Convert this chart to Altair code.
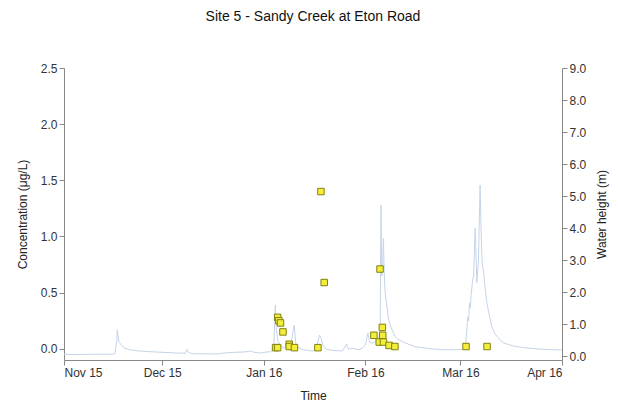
import altair as alt
import pandas as pd

# Water height (m) series
wl_time = [
    "2015-11-01T00:00", "2015-11-05T00:00", "2015-11-10T00:00", "2015-11-15T00:00",
    "2015-11-16T12:00", "2015-11-17T03:00", "2015-11-17T06:00", "2015-11-17T18:00",
    "2015-11-18T12:00", "2015-11-19T12:00", "2015-11-21T00:00", "2015-11-24T00:00",
    "2015-11-29T00:00", "2015-12-05T00:00", "2015-12-08T00:00", "2015-12-08T12:00",
    "2015-12-09T00:00", "2015-12-10T00:00", "2015-12-14T00:00", "2015-12-18T00:00",
    "2015-12-20T00:00", "2015-12-23T00:00", "2015-12-26T00:00", "2015-12-28T00:00",
    "2015-12-29T00:00", "2015-12-31T00:00",
    "2016-01-01T00:00", "2016-01-03T00:00", "2016-01-04T00:00", "2016-01-04T12:00",
    "2016-01-04T18:00", "2016-01-05T06:00", "2016-01-06T00:00", "2016-01-08T00:00",
    "2016-01-09T00:00", "2016-01-10T06:00", "2016-01-10T18:00", "2016-01-11T00:00",
    "2016-01-13T00:00", "2016-01-15T00:00", "2016-01-16T00:00", "2016-01-17T00:00",
    "2016-01-17T12:00", "2016-01-18T00:00", "2016-01-18T12:00", "2016-01-19T00:00",
    "2016-01-20T00:00", "2016-01-22T00:00", "2016-01-25T00:00", "2016-01-26T06:00",
    "2016-01-26T18:00", "2016-01-28T00:00", "2016-01-29T00:00", "2016-01-30T00:00",
    "2016-01-31T00:00", "2016-02-01T00:00", "2016-02-01T18:00", "2016-02-02T06:00",
    "2016-02-03T00:00", "2016-02-04T00:00", "2016-02-05T00:00", "2016-02-05T12:00",
    "2016-02-05T18:00", "2016-02-06T00:00", "2016-02-06T06:00", "2016-02-06T12:00",
    "2016-02-06T18:00", "2016-02-07T00:00", "2016-02-07T12:00", "2016-02-08T00:00",
    "2016-02-08T12:00", "2016-02-09T00:00", "2016-02-10T00:00", "2016-02-11T00:00",
    "2016-02-13T00:00", "2016-02-16T00:00", "2016-02-20T00:00", "2016-02-22T00:00",
    "2016-02-25T00:00", "2016-02-28T00:00", "2016-03-01T00:00", "2016-03-02T12:00",
    "2016-03-03T00:00", "2016-03-03T06:00", "2016-03-03T12:00", "2016-03-03T18:00",
    "2016-03-04T00:00", "2016-03-04T06:00", "2016-03-04T18:00", "2016-03-05T00:00",
    "2016-03-05T12:00", "2016-03-06T00:00", "2016-03-06T12:00", "2016-03-07T00:00",
    "2016-03-07T06:00", "2016-03-07T12:00", "2016-03-07T18:00", "2016-03-08T00:00",
    "2016-03-08T12:00", "2016-03-09T00:00", "2016-03-09T12:00", "2016-03-10T12:00",
    "2016-03-11T12:00", "2016-03-12T12:00", "2016-03-14T00:00", "2016-03-17T00:00",
    "2016-03-20T00:00", "2016-03-25T00:00", "2016-04-01T00:00",
]
wl_value = [
    0.06, 0.05, 0.06, 0.06,
    0.07, 0.50, 0.82, 0.45,
    0.35, 0.25, 0.20, 0.16,
    0.13, 0.10, 0.09, 0.21,
    0.12, 0.08, 0.07, 0.07,
    0.10, 0.12, 0.13, 0.16,
    0.12, 0.10,
    0.12, 0.14, 0.20, 1.60,
    0.90, 0.50, 0.32, 0.22,
    0.20, 0.97, 0.40, 0.30,
    0.20, 0.17, 0.16, 0.20,
    0.45, 0.66, 0.55, 0.35,
    0.22, 0.18, 0.16, 0.38,
    0.22, 0.25, 0.22, 0.20,
    0.25, 0.35, 0.72, 0.45,
    0.40, 0.45, 0.55, 0.80,
    4.72, 2.50, 2.80, 3.68,
    2.60, 2.00, 1.60, 1.20,
    1.00, 0.85, 0.62, 0.52,
    0.42, 0.30, 0.24, 0.22,
    0.20, 0.20, 0.21, 0.22,
    0.90, 1.23, 1.10, 1.65,
    1.50, 1.90, 2.40, 2.48,
    4.00, 2.30, 3.00, 5.34,
    4.20, 3.20, 2.80, 2.69,
    2.17, 1.70, 1.44, 0.95,
    0.70, 0.58, 0.42, 0.32,
    0.27, 0.22, 0.19,
]

# Concentration samples (ug/L)
c_time = [
    "2016-01-04T14:00", "2016-01-05T05:00", "2016-01-05T05:00", "2016-01-05T14:00",
    "2016-01-06T02:00", "2016-01-06T20:00", "2016-01-08T18:00", "2016-01-08T18:00",
    "2016-01-10T08:00", "2016-01-17T12:00", "2016-01-18T10:00", "2016-01-19T10:00",
    "2016-02-03T14:00", "2016-02-05T05:00", "2016-02-05T11:00", "2016-02-06T04:00",
    "2016-02-06T07:00", "2016-02-06T12:00", "2016-02-08T05:00", "2016-02-10T00:00",
    "2016-03-02T17:00", "2016-03-09T03:00",
]
c_value = [
    0.01, 0.01, 0.28, 0.25,
    0.23, 0.15, 0.04, 0.02,
    0.01, 0.01, 1.40, 0.59,
    0.12, 0.06, 0.71, 0.19,
    0.12, 0.06, 0.03, 0.02,
    0.02, 0.02,
]

wl = pd.DataFrame({"time": wl_time, "height": wl_value})
conc = pd.DataFrame({"time": c_time, "conc": c_value})

month_ticks = [
    alt.DateTime(year=2015, month=11, date=1),
    alt.DateTime(year=2015, month=12, date=1),
    alt.DateTime(year=2016, month=1, date=1),
    alt.DateTime(year=2016, month=2, date=1),
    alt.DateTime(year=2016, month=3, date=1),
    alt.DateTime(year=2016, month=4, date=1),
]

x_enc = alt.X(
    "time:T",
    scale=alt.Scale(domain=[alt.DateTime(year=2015, month=11, date=1),
                            alt.DateTime(year=2016, month=4, date=1)]),
    axis=alt.Axis(values=month_ticks, format="%b %y", title="Time",
                  titlePadding=12, grid=False),
)

line = alt.Chart(wl).mark_line(color="#c6d4ea", strokeWidth=1).encode(
    x=x_enc,
    y=alt.Y("height:Q",
            scale=alt.Scale(domain=[-0.12, 9], nice=False, zero=False),
            axis=alt.Axis(orient="right", values=[0, 1, 2, 3, 4, 5, 6, 7, 8, 9],
                          format=".1f", title="Water height (m)", titlePadding=11,
                          titleAngle=270, titleBaseline="top", grid=False)),
)

points = alt.Chart(conc).mark_square(size=42, fill="#f4ee3a", fillOpacity=1,
                                      stroke="#808010", strokeWidth=1).encode(
    x=x_enc,
    y=alt.Y("conc:Q",
            scale=alt.Scale(domain=[-0.1, 2.5], nice=False, zero=False),
            axis=alt.Axis(orient="left", values=[0, 0.5, 1.0, 1.5, 2.0, 2.5],
                          format=".1f", title="Concentration (μg/L)", titlePadding=11,
                          grid=False)),
)

chart = alt.layer(line, points).resolve_scale(y="independent").properties(
    width=498, height=292,
    autosize=alt.AutoSizeParams(type="none"),
    padding={"left": 56, "top": 60, "right": 48, "bottom": 47},
    background="white",
    title=alt.TitleParams("Site 5 - Sandy Creek at Eton Road", fontSize=14,
                          font="Liberation Sans", fontWeight="normal",
                          color="#111", offset=38, anchor="middle"),
).configure_view(stroke=None).configure_axis(
    grid=False,
    domainColor="#888",
    tickColor="#888",
    tickSize=5,
    labelFont="Liberation Sans",
    labelFontSize=12,
    labelColor="#333",
    titleFont="Liberation Sans",
    titleFontSize=12,
    titleFontWeight="normal",
    titleColor="#222",
)

chart.save("out.html", embed_options={"renderer": "svg", "actions": False})
